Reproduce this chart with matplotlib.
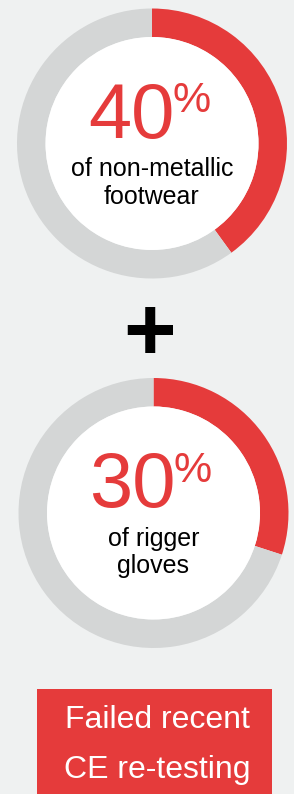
import matplotlib
matplotlib.use("Agg")
import matplotlib.pyplot as plt
from matplotlib.patches import Circle, Rectangle

W, H = 294, 794
plt.rcParams["font.family"] = ["Liberation Sans", "DejaVu Sans"]

RED = "#e53b3b"
GREY = "#d4d6d6"
BG = "#eff1f1"

# data
pct = [40, 30]
label_lines = [["of non-metallic", "footwear"], ["of rigger", "gloves"]]
caption_lines = ["Failed recent", "CE re-testing"]

# layout (pixel coords, y from top)
centers = [(152, 143.5), (153.5, 513)]
R_OUT = 135
R_IN = 106.5


def Y(py):
    return H - py


fig = plt.figure(figsize=(W / 100, H / 100), dpi=100, facecolor=BG)
ax = fig.add_axes([0, 0, 1, 1])
ax.set_facecolor(BG)

for (cx, cy), p, lines in zip(centers, pct, label_lines):
    ax.pie([p, 100 - p], colors=[RED, GREY], startangle=90, counterclock=False,
           radius=R_OUT, center=(cx, Y(cy)), frame=True,
           wedgeprops=dict(width=R_OUT - R_IN, edgecolor="none", linewidth=0))
    ax.add_patch(Circle((cx, Y(cy)), R_IN, facecolor="white", edgecolor="none"))
    ax.text(cx - 21, Y(cy - 5.5), str(p), color=RED, fontsize=56,
            ha="center", va="baseline")
    ax.text(cx + 20, Y(cy - 31), "%", color=RED, fontsize=31,
            ha="left", va="baseline")
    for i, ln in enumerate(lines):
        ax.text(cx, Y(cy + 33 + 27 * i), ln, color="black", fontsize=18,
                ha="center", va="baseline")

# plus sign between the two donuts
ax.text(150, Y(360), "+", color="black", fontsize=65, fontweight="bold",
        ha="center", va="baseline")

# caption box
ax.add_patch(Rectangle((37, 0), 272 - 37, Y(689), facecolor=RED, edgecolor="none"))
for i, ln in enumerate(caption_lines):
    ax.text(157, Y(728 + 50 * i), ln, color="white", fontsize=23,
            ha="center", va="baseline")

ax.set_xlim(0, W)
ax.set_ylim(0, H)
ax.set_aspect("equal")
ax.axis("off")

fig.savefig("out.png", dpi=100, facecolor=BG)
